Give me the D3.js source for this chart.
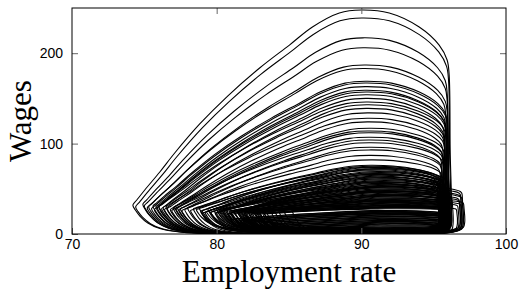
<!DOCTYPE html>
<html>
<head>
<meta charset="utf-8">
<script src="https://cdn.jsdelivr.net/npm/d3@7"></script>
<style>
  body { margin: 0; background: #fff; }
  svg { display: block; }
</style>
</head>
<body>
<div id="chart"></div>
<script>
// Define constants
const WIDTH = 519;
const HEIGHT = 293;
const MARGIN = { top: 8, right: 13, bottom: 59, left: 72 };

// Outer cycle, read point by point (employment %, wages), starting at the left tip
const outerEmp = [
  74.21, 74.38, 74.69, 75.24, 76.07, 77.45, 80.21, 85.72, 92.62, 95.38, 96.07, 96.21, 96.14, 96.07, 95.93,
  95.38, 94.0, 91.93, 90.0, 88.48, 86.62, 85.03, 82.97, 80.76, 78.83, 77.1, 76.07, 75.03, 74.48
];
const outerWage = [
  32.1, 26.5, 19.9, 12.2, 6.1, 2.2, 0.3, 0, 0, 1.1, 5.5, 15.5, 93, 176, 192.5,
  209, 229, 244.5, 247.8, 244.5, 229, 209, 183.6, 152.6, 121.7, 89.6, 68.6, 48.7, 37.6
];

// One entry per cycle: peak wage, left tip (employment, wage), right edge employment, lowest wage
const cyclePeakWage = [
  247.8, 239, 217, 206, 187, 183, 169, 167, 163, 159, 157, 154, 150, 146, 143, 139, 134, 128, 124, 117,
  114, 112, 107, 104, 101, 96, 93, 87, 82, 76,
  75, 74, 72, 71, 70, 68, 67, 66, 65, 63, 62, 61, 60, 58, 57, 56, 55, 53, 52, 51,
  50, 48, 47, 46, 45, 43, 42, 41, 40, 38, 37, 36, 35, 34, 33, 32, 31, 30, 29, 28,
  73.5, 69, 64, 59, 54.5, 49, 44, 39, 34.5, 32.5, 31.5, 30.5, 29.5,
  72.5, 66.5, 62.5, 57.5, 52.5, 47.5, 42.5, 37.5,
  54, 49, 44, 39, 35, 30, 52, 47, 42, 37,
  26, 25, 24, 23, 22, 21, 20, 19, 18, 17, 16, 15, 14, 13, 12, 11, 10, 9,
  25.5, 24.5, 23.5, 22.5, 21.5, 19.5, 17.5, 15.5, 13.5, 11.5,
  8, 7, 6, 5, 4.5, 4
];
const cycleTipEmp = [
  74.21, 74.4, 74.9, 75.0, 75.3, 75.2, 75.6, 75.5, 75.8, 75.7, 76.0, 75.9, 76.2, 76.0, 76.4, 76.3, 76.6, 76.5, 76.8, 77.0,
  76.9, 77.2, 77.1, 77.4, 77.3, 77.6, 77.5, 77.8, 78.0, 78.2,
  78.4, 78.9, 78.6, 79.2, 78.8, 79.5, 79.0, 79.8, 79.3, 80.0, 79.6, 80.3, 79.9, 80.5, 80.1, 80.8, 80.4, 81.0, 80.6, 81.3,
  80.9, 81.5, 81.1, 81.8, 81.4, 82.0, 81.6, 82.3, 81.9, 82.5, 82.1, 82.8, 82.4, 83.0, 82.6, 83.3, 82.9, 83.5, 83.2, 83.8,
  79.0, 79.4, 80.2, 80.7, 81.2, 81.7, 82.2, 82.7, 83.2, 84.0, 84.6, 85.2, 84.3,
  79.6, 80.0, 80.5, 81.0, 81.5, 82.0, 82.5, 83.0,
  80.2, 80.7, 81.2, 81.7, 82.2, 82.7, 80.4, 80.9, 81.4, 81.9,
  81.0, 81.6, 81.3, 82.0, 81.8, 82.5, 82.2, 83.0, 82.7, 83.4, 83.1, 83.8, 83.5, 84.2, 83.9, 84.6, 84.3, 85.0,
  81.3, 82.0, 81.6, 82.4, 82.9, 83.3, 83.8, 84.3, 84.8, 85.3,
  84.0, 84.5, 85.0, 85.4, 85.8, 86.2
];
const cycleTipWage = [
  32.1, 30, 33, 31, 30, 29, 31, 28, 30, 27, 31, 29, 28, 30, 27, 29, 28, 30, 27, 29,
  26, 28, 30, 27, 29, 26, 28, 27, 29, 26,
  28, 25, 27, 24, 29, 26, 23, 27, 25, 28, 24, 26, 23, 27, 25, 22, 26, 24, 27, 23,
  25, 26, 22, 24, 27, 23, 25, 22, 24, 26, 23, 25, 22, 24, 26, 23, 25, 23, 22, 24,
  26, 28, 25, 27, 24, 26, 25, 27, 26, 27, 28, 27, 26,
  24, 23, 25, 23, 25, 24, 22, 24,
  27, 25, 26, 24, 23, 22, 26, 24, 25, 23,
  16, 15, 15, 14, 14, 13, 13, 12, 12, 11, 10, 10, 9, 8, 8, 7, 6, 6,
  17, 16, 15, 14, 13, 12, 11, 9, 8, 7,
  4, 3.5, 3, 3, 2.5, 2.2
];
const cycleRightEmp = [
  96.14, 96.1, 96.0, 96.0, 96.0, 95.9, 96.0, 96.0, 95.9, 95.9, 95.9, 95.9, 95.8, 95.9, 95.8, 95.8, 95.8, 95.8, 95.7, 95.8,
  95.7, 95.7, 95.7, 95.6, 95.7, 95.6, 95.6, 95.5, 95.6, 95.5,
  95.6, 95.4, 95.7, 95.5, 95.3, 95.8, 95.5, 95.4, 95.9, 95.6, 95.3, 95.7, 96.0, 95.5, 95.8, 95.4, 96.1, 95.6, 95.9, 95.5,
  96.2, 95.7, 96.0, 95.6, 96.3, 95.8, 96.1, 95.7, 96.2, 95.9, 96.0, 95.8, 96.1, 95.9, 96.0, 95.8, 96.1, 95.7, 96.0, 95.9,
  95.5, 95.7, 95.4, 95.8, 95.5, 95.9, 95.6, 95.8, 95.5, 95.7, 95.4, 95.6, 95.8,
  96.0, 95.6, 95.9, 95.4, 95.7, 95.5, 95.9, 95.6,
  97.0, 96.9, 96.8, 97.1, 96.7, 96.6, 96.9, 97.0, 96.8, 96.9,
  95.9, 95.6, 96.0, 95.7, 95.5, 95.8, 95.6, 95.9, 95.4, 95.7, 95.5, 95.8, 95.6, 95.4, 95.7, 95.5, 95.6, 95.4,
  95.7, 95.5, 95.8, 95.4, 95.9, 95.6, 95.5, 95.7, 95.4, 95.6,
  95.5, 95.3, 95.6, 95.4, 95.2, 95.5
];
const cycleLowWage = [
  0, 0, 0, 0, 0, 0, 0, 0, 0, 0, 0, 0, 0, 0, 0, 0, 0, 0, 0, 0,
  0, 0, 0, 0, 0, 0, 0, 0, 0, 0,
  0, 2, 4, 1, 3, 5, 0, 2, 4, 1, 3, 5, 0, 2, 4, 1, 3, 5, 0, 2,
  4, 1, 3, 5, 0, 2, 4, 1, 3, 5, 0, 2, 4, 1, 3, 5, 0, 2, 4, 1,
  3, 1, 4, 2, 5, 0, 3, 1, 4, 2, 5, 3, 1,
  2, 4, 1, 3, 5, 2, 4, 1,
  2, 3, 1, 4, 2, 3, 1, 2, 4, 3,
  3, 5, 2, 6, 4, 7, 3, 5, 2, 6, 4, 3, 5, 2, 4, 3, 2, 1,
  4, 6, 3, 5, 2, 4, 3, 2, 3, 2,
  1, 1.5, 0.5, 1, 0.5, 0.8
];

// Axis ticks
const xTicks = [70, 80, 90, 100];
const yTicks = [0, 100, 200];

// Reference values of the outer cycle
const OUTER_TIP_EMP = outerEmp[0];
const OUTER_TIP_WAGE = outerWage[0];
const OUTER_RIGHT_EMP = outerEmp[12];
const OUTER_PEAK = d3.max(outerWage);

// Rescale the outer cycle shape onto one cycle's tip, peak, right edge and low
function cyclePoints(i) {
  const k = (cycleRightEmp[i] - cycleTipEmp[i]) / (OUTER_RIGHT_EMP - OUTER_TIP_EMP);
  const low = cycleLowWage[i];
  return outerEmp.map((e, j) => {
    const w = outerWage[j];
    const emp = cycleTipEmp[i] + (e - OUTER_TIP_EMP) * k;
    const wage = w <= OUTER_TIP_WAGE
      ? low + w * (cycleTipWage[i] - low) / OUTER_TIP_WAGE
      : cycleTipWage[i] + (w - OUTER_TIP_WAGE) * (cyclePeakWage[i] - cycleTipWage[i]) / (OUTER_PEAK - OUTER_TIP_WAGE);
    return [emp, wage];
  });
}

function drawChart() {
  const svg = d3.select("#chart")
    .append("svg")
    .attr("width", WIDTH)
    .attr("height", HEIGHT);

  const innerW = WIDTH - MARGIN.left - MARGIN.right;
  const innerH = HEIGHT - MARGIN.top - MARGIN.bottom;

  const x = d3.scaleLinear().domain([70, 100]).range([0, innerW]);
  const y = d3.scaleLinear().domain([0, 250]).range([innerH, 0]);

  const g = svg.append("g")
    .attr("transform", `translate(${MARGIN.left},${MARGIN.top})`);

  g.append("clipPath")
    .attr("id", "plot-clip")
    .append("rect")
    .attr("width", innerW)
    .attr("height", innerH);

  // Cycles
  const line = d3.line()
    .x(d => x(d[0]))
    .y(d => y(d[1]))
    .curve(d3.curveCatmullRomClosed.alpha(0.5));

  g.append("g")
    .attr("clip-path", "url(#plot-clip)")
    .selectAll("path")
    .data(cyclePeakWage.map((_, i) => cyclePoints(i)))
    .enter()
    .append("path")
    .attr("d", line)
    .attr("fill", "none")
    .attr("stroke", "#000")
    .attr("stroke-width", 1.1);

  // Axes with inward ticks
  const styleAxis = sel => {
    sel.select(".domain").remove();
    sel.selectAll(".tick line").attr("stroke", "#666");
    sel.selectAll(".tick text")
      .attr("fill", "#000")
      .style("font-family", "'Liberation Sans', Arial, sans-serif")
      .style("font-size", "14px");
  };

  g.append("g")
    .attr("transform", `translate(0,${innerH})`)
    .call(d3.axisBottom(x).tickValues(xTicks).tickSize(-6).tickPadding(5))
    .call(styleAxis);

  g.append("g")
    .call(d3.axisLeft(y).tickValues(yTicks).tickSize(-6).tickPadding(9))
    .call(styleAxis);

  g.append("g")
    .call(d3.axisTop(x).tickValues([80, 90]).tickSize(-6).tickFormat(""))
    .call(styleAxis);

  g.append("g")
    .attr("transform", `translate(${innerW},0)`)
    .call(d3.axisRight(y).tickValues([100, 200]).tickSize(-6).tickFormat(""))
    .call(styleAxis);

  // Frame
  g.append("rect")
    .attr("width", innerW)
    .attr("height", innerH)
    .attr("fill", "none")
    .attr("stroke", "#000")
    .attr("stroke-width", 1);

  // Axis titles
  svg.append("text")
    .attr("x", MARGIN.left + innerW / 2)
    .attr("y", 282)
    .attr("text-anchor", "middle")
    .style("font-family", "'Liberation Serif', 'Times New Roman', serif")
    .style("font-size", "31px")
    .text("Employment rate");

  svg.append("text")
    .attr("transform", `translate(31,${MARGIN.top + innerH / 2}) rotate(-90)`)
    .attr("text-anchor", "middle")
    .style("font-family", "'Liberation Serif', 'Times New Roman', serif")
    .style("font-size", "31px")
    .text("Wages");
}

drawChart();
</script>
</body>
</html>
